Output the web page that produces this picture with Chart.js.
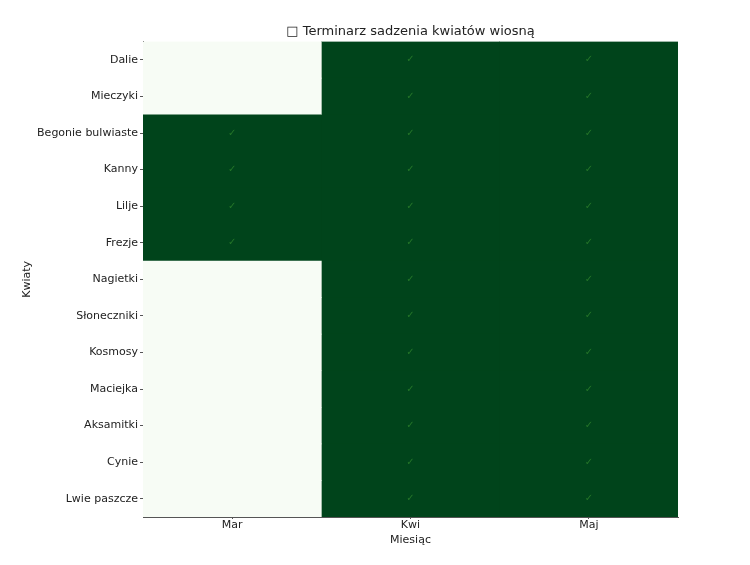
<!DOCTYPE html>
<html>
<head>
<meta charset="utf-8">
<script src="https://cdn.jsdelivr.net/npm/chart.js@4"></script>
<style>
  body { margin: 0; background: #fff; }
  #wrap { width: 750px; height: 565px; }
</style>
</head>
<body>
<div id="wrap"><canvas id="chart" width="750" height="565"></canvas></div>
<script>
// data
const flowers = ["Dalie", "Mieczyki", "Begonie bulwiaste", "Kanny", "Lilje", "Frezje", "Nagietki",
    "Słoneczniki", "Kosmosy", "Maciejka", "Aksamitki", "Cynie", "Lwie paszcze"];
const months = ["Mar", "Kwi", "Maj"];
const mar = [0, 0, 1, 1, 1, 1, 0, 0, 0, 0, 0, 0, 0];
const kwi = [1, 1, 1, 1, 1, 1, 1, 1, 1, 1, 1, 1, 1];
const maj = [1, 1, 1, 1, 1, 1, 1, 1, 1, 1, 1, 1, 1];
const planting = [mar, kwi, maj];
const monthPos = [0.5, 1.5, 2.5];

const onColor = "#00441b";
const offColor = "#f7fcf5";
const font = "'DejaVu Sans', sans-serif";

// one stacked dataset per month, each cell is one unit wide
const datasets = planting.map((col, i) => ({
    label: months[i],
    data: col.map(() => 1),
    backgroundColor: col.map(v => v ? onColor : offColor),
    borderWidth: 0,
    barPercentage: 1,
    categoryPercentage: 1
}));

// check marks in the planted cells
const checkPlugin = {
    id: "checks",
    afterDatasetsDraw(chart) {
        const ctx = chart.ctx;
        const xs = chart.scales.x, ys = chart.scales.y;
        ctx.save();
        ctx.font = "10px " + font;
        ctx.fillStyle = "rgba(60,150,50,0.6)";
        ctx.textAlign = "center";
        ctx.textBaseline = "middle";
        planting.forEach((col, i) => {
            col.forEach((v, j) => {
                if (v) ctx.fillText("✓", xs.getPixelForValue(monthPos[i]), ys.getPixelForValue(j));
            });
        });
        ctx.restore();
    }
};

new Chart(document.getElementById("chart"), {
    type: "bar",
    data: { labels: flowers, datasets: datasets },
    plugins: [checkPlugin],
    options: {
        indexAxis: "y",
        responsive: false,
        animation: false,
        devicePixelRatio: 1,
        layout: { padding: { left: 21, right: 72, top: 0, bottom: 18 } },
        plugins: {
            legend: { display: false },
            tooltip: { enabled: false },
            title: {
                display: true,
                fullSize: false,
                text: "□ Terminarz sadzenia kwiatów wiosną",
                color: "#222",
                font: { family: font, size: 13, weight: "normal" },
                padding: { top: 24, bottom: 2 }
            }
        },
        scales: {
            x: {
                type: "linear",
                stacked: true,
                min: 0,
                max: 3,
                afterBuildTicks(scale) {
                    scale.ticks = monthPos.map(v => ({ value: v }));
                },
                afterFit(scale) { scale.height = 30; },
                ticks: {
                    color: "#222",
                    font: { family: font, size: 11 },
                    padding: 0,
                    callback: (v, i) => months[i]
                },
                grid: { drawOnChartArea: false, drawTicks: true, tickLength: 2, color: "#555" },
                border: { display: true, color: "#555", width: 1 },
                title: {
                    display: true,
                    text: "Miesiąc",
                    color: "#222",
                    font: { family: font, size: 11 },
                    padding: { top: 0, bottom: 0 }
                }
            },
            y: {
                stacked: true,
                afterFit(scale) { scale.width = 122; },
                ticks: {
                    color: "#222",
                    font: { family: font, size: 11 },
                    padding: 2
                },
                grid: { offset: false, drawOnChartArea: false, drawTicks: true, tickLength: 3, color: "#555" },
                border: { display: true, color: "#555", width: 1 },
                title: {
                    display: true,
                    text: "Kwiaty",
                    color: "#222",
                    font: { family: font, size: 11 },
                    padding: { top: 0, bottom: 0 }
                }
            }
        }
    }
});
</script>
</body>
</html>
